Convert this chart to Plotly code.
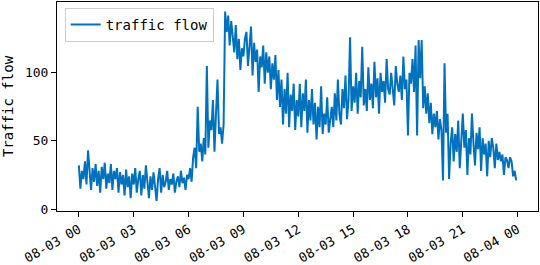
import pandas as pd
import plotly.graph_objects as go

# ---- data (5-minute traffic flow, 08-03 00:00 .. 23:55) ----
start_time = "2023-08-03 00:00"
step_minutes = 5
flow_values = [
    32, 15, 28, 22, 35, 18, 43, 25, 14, 30, 20, 33,
    17, 28, 12, 31, 22, 34, 15, 26, 19, 33, 14, 28,
    22, 30, 12, 27, 18, 25, 10, 29, 16, 24, 8, 26,
    18, 30, 12, 22, 28, 10, 25, 15, 32, 20, 8, 24,
    14, 27, 18, 6, 22, 30, 12, 25, 16, 20, 28, 14,
    22, 18, 26, 12, 20, 24, 16, 28, 19, 23, 14, 25,
    22, 30, 20, 38, 45, 30, 75, 42, 48, 35, 52, 40,
    105, 45, 65, 58, 80, 42, 70, 95, 55, 60, 48, 62,
    145, 130, 142, 120, 138, 128, 115, 135, 110, 125, 102, 118,
    112, 125, 130, 105, 120, 134, 98, 122, 108, 117, 86, 112,
    104, 120, 92, 115, 100, 112, 88, 107, 95, 113, 80, 102,
    75, 95, 62, 88, 70, 100, 60, 84, 72, 92, 58, 80,
    68, 92, 60, 85, 72, 95, 56, 80, 65, 88, 62, 78,
    51, 75, 60, 90, 55, 70, 62, 82, 56, 68, 75, 60,
    85, 65, 95, 70, 62, 88, 74, 98, 66, 80, 126, 72,
    90, 78, 100, 70, 94, 82, 119, 76, 88, 72, 104, 80,
    92, 74, 108, 82, 96, 70, 100, 86, 94, 78, 110, 88,
    84, 100, 90, 76, 105, 92, 86, 98, 80, 112, 88, 95,
    54, 100, 92, 110, 86, 120, 54, 124, 96, 124, 74, 90,
    70, 85, 63, 78, 55, 70, 60, 72, 51, 66, 58, 21,
    107, 56, 70, 22, 48, 60, 35, 55, 42, 65, 30, 50,
    70, 45, 58, 25, 52, 40, 70, 48, 32, 56, 44, 60,
    28, 52, 40, 48, 24, 50, 38, 52, 45, 30, 48, 36,
    42, 35, 40, 25, 38, 36, 30, 38, 35, 24, 28, 21,
]
tick_times = ["2023-08-03 00:00", "2023-08-03 03:00", "2023-08-03 06:00",
              "2023-08-03 09:00", "2023-08-03 12:00", "2023-08-03 15:00",
              "2023-08-03 18:00", "2023-08-03 21:00", "2023-08-04 00:00"]
tick_labels = ["08-03 00", "08-03 03", "08-03 06", "08-03 09", "08-03 12",
               "08-03 15", "08-03 18", "08-03 21", "08-04 00"]
y_ticks = [0, 50, 100]
series_name = "traffic flow"
y_title = "Traffic flow"

times = pd.date_range(start_time, periods=len(flow_values), freq=f"{step_minutes}min")

span = times[-1] - times[0]
x_range = [times[0] - 0.05 * span, times[-1] + 0.05 * span]
vmin, vmax = min(flow_values), max(flow_values)
vspan = vmax - vmin
y_range = [vmin - 0.05 * vspan - 0.5, vmax + 0.05 * vspan]

FONT = "DejaVu Sans Mono"
BLUE = "#0072BD"

fig = go.Figure()
fig.add_trace(go.Scatter(
    x=times, y=flow_values, mode="lines", name=series_name,
    line=dict(color=BLUE, width=2),
))

fig.update_layout(
    width=540, height=265,
    margin=dict(l=57, r=2, t=2, b=54),
    paper_bgcolor="white", plot_bgcolor="white",
    font=dict(family=FONT, size=13, color="black"),
    showlegend=True,
    legend=dict(
        x=0.016, y=0.972, xanchor="left", yanchor="top",
        bgcolor="rgba(255,255,255,0.8)", bordercolor="#cccccc", borderwidth=1,
        font=dict(family=FONT, size=14, color="black"),
    ),
)
fig.update_xaxes(
    range=x_range, showgrid=False, zeroline=False, automargin=False,
    showline=True, linecolor="black", linewidth=1, mirror=True,
    ticks="outside", ticklen=5, tickcolor="black",
    tickvals=pd.to_datetime(tick_times), ticktext=tick_labels,
    tickangle=-30, tickfont=dict(family=FONT, size=13),
)
fig.update_yaxes(
    range=y_range, showgrid=False, zeroline=False, automargin=False,
    showline=True, linecolor="black", linewidth=1, mirror=True,
    ticks="outside", ticklen=5, tickcolor="black",
    tickvals=y_ticks, tickfont=dict(family=FONT, size=13),
    title=dict(text=y_title, font=dict(family=FONT, size=14), standoff=8),
)

fig.write_html("out.html",
               config={"displayModeBar": False},
               post_script="document.body.style.margin='0px';document.body.style.padding='0px';")
